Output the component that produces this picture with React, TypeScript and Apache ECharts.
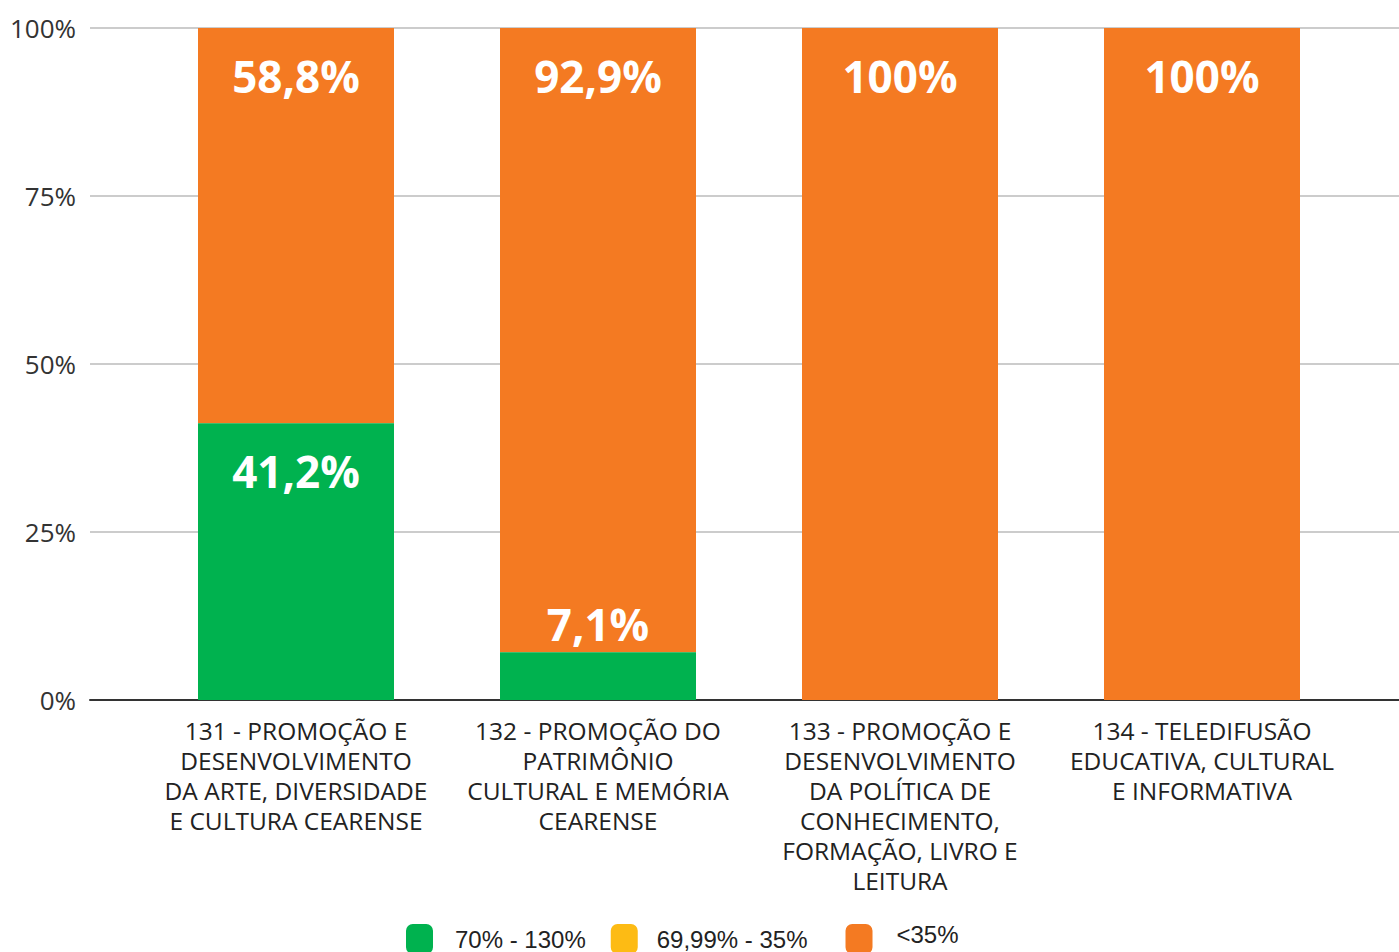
import React, { useEffect, useRef } from "react";
import * as echarts from "echarts";

const categories = [
  "131 - PROMOÇÃO E\nDESENVOLVIMENTO\nDA ARTE, DIVERSIDADE\nE CULTURA CEARENSE",
  "132 - PROMOÇÃO DO\nPATRIMÔNIO\nCULTURAL E MEMÓRIA\nCEARENSE",
  "133 - PROMOÇÃO E\nDESENVOLVIMENTO\nDA POLÍTICA DE\nCONHECIMENTO,\nFORMAÇÃO, LIVRO E\nLEITURA",
  "134 - TELEDIFUSÃO\nEDUCATIVA, CULTURAL\nE INFORMATIVA",
];
const greenValues = [41.2, 7.1, 0, 0];
const yellowValues = [0, 0, 0, 0];
const orangeValues = [58.8, 92.9, 100, 100];
const legendNames = ["70% - 130%", "69,99% - 35%", "<35%"];

const GREEN = "#00B24F";
const YELLOW = "#FDBB14";
const ORANGE = "#F47A22";

const fmt = (v: number) => (Number.isInteger(v) ? String(v) : v.toFixed(1).replace(".", ",")) + "%";

const labelStyle = {
  show: true,
  position: "insideTop" as const,
  distance: 26,
  color: "#fff",
  fontFamily: "Open Sans",
  fontWeight: "bold" as const,
  fontSize: 44,
  formatter: (p: any) => (p.value > 0 ? fmt(p.value) : ""),
};

export default function App() {
  const ref = useRef<HTMLDivElement>(null);
  useEffect(() => {
    if (!ref.current) return;
    const chart = echarts.init(ref.current, null, { renderer: "svg" });
    chart.setOption({
      animation: false,
      legend: {
        data: [
          { name: legendNames[0], textStyle: { padding: [0, 0, 0, 17] } },
          { name: legendNames[1], textStyle: { padding: [0, 13, 0, 14] } },
          { name: legendNames[2], textStyle: { padding: [0, 0, 0, 19] } },
        ],
        formatter: (name: string) => (name === legendNames[2] ? `{r|${name}}` : name),
        bottom: -9,
        left: 401,
        itemWidth: 27,
        itemHeight: 30,
        itemGap: 25,
        icon: "roundRect",
        textStyle: {
          fontFamily: "Liberation Sans",
          fontSize: 24,
          lineHeight: 22,
          color: "#222",
          rich: {
            r: { fontFamily: "Liberation Sans", fontSize: 24, lineHeight: 22, color: "#222", padding: [0, 0, 10, 0] },
          },
        },
      },
      grid: [
        { left: 90, right: 0, top: 28, height: 672 },
        { left: 145, width: 1208, top: 28, height: 672 },
      ],
      xAxis: [
        {
          gridIndex: 0,
          type: "value",
          min: 0,
          max: 1,
          axisLine: { show: true, onZero: false, lineStyle: { color: "#333", width: 2 } },
          axisTick: { show: false },
          axisLabel: { show: false },
          splitLine: { show: false },
        },
        {
          gridIndex: 1,
          type: "category",
          data: categories,
          axisLine: { show: false },
          axisTick: { show: false },
          axisLabel: {
            interval: 0,
            margin: 15,
            fontFamily: "Open Sans",
            fontSize: 24.5,
            lineHeight: 30,
            color: "#222",
          },
        },
      ],
      yAxis: [
        {
          gridIndex: 0,
          type: "value",
          min: 0,
          max: 100,
          interval: 25,
          axisLine: { show: false },
          axisTick: { show: false },
          axisLabel: { formatter: "{value}%", fontFamily: "Open Sans", fontSize: 26, color: "#333", margin: 14 },
          splitLine: { lineStyle: { color: "#cccccc", width: 2 } },
        },
        {
          gridIndex: 1,
          type: "value",
          min: 0,
          max: 100,
          interval: 25,
          show: false,
          splitLine: { show: false },
        },
      ],
      series: [
        {
          name: legendNames[0],
          type: "bar",
          stack: "s",
          xAxisIndex: 1,
          yAxisIndex: 1,
          barWidth: 196,
          itemStyle: { color: GREEN },
          data: greenValues.map((v) =>
            v > 0 && v < 15
              ? { value: v, label: { position: "top", distance: 6 } }
              : v
          ),
          label: labelStyle,
        },
        {
          name: legendNames[1],
          type: "bar",
          stack: "s",
          xAxisIndex: 1,
          yAxisIndex: 1,
          barWidth: 196,
          itemStyle: { color: YELLOW },
          data: yellowValues,
          label: labelStyle,
        },
        {
          name: legendNames[2],
          type: "bar",
          stack: "s",
          xAxisIndex: 1,
          yAxisIndex: 1,
          barWidth: 196,
          itemStyle: { color: ORANGE },
          data: orangeValues,
          label: labelStyle,
          z: 1,
        },
      ],
    });
    return () => chart.dispose();
  }, []);
  return <div ref={ref} style={{ width: 1399, height: 952, position: "absolute", left: 0, top: 0 }} />;
}
